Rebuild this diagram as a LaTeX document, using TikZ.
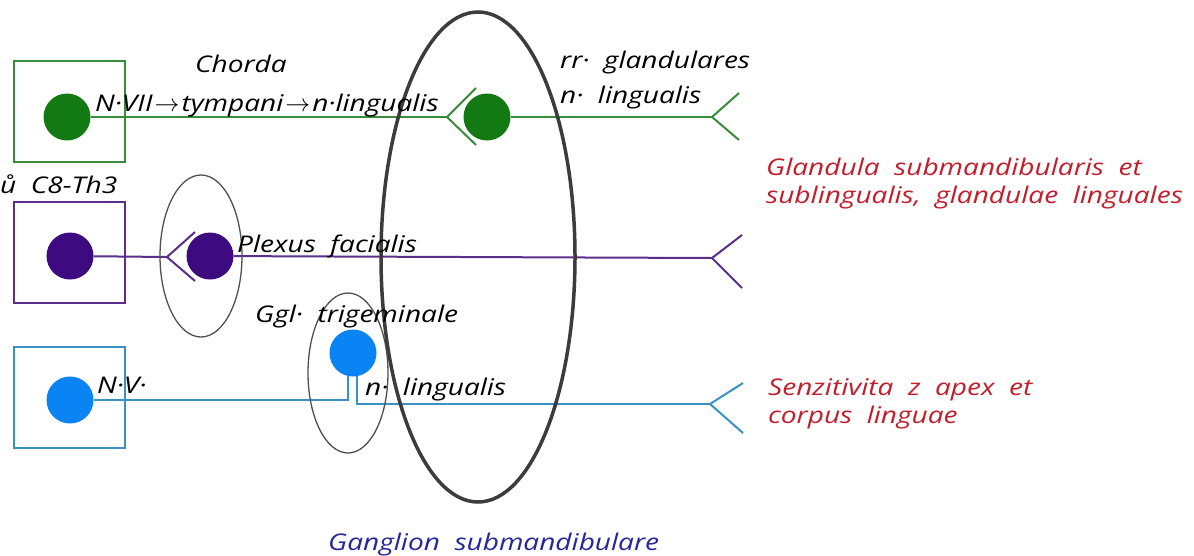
\documentclass[tikz,border=0pt]{standalone}
\usepackage{fontspec}
\setmainfont{Open Sans}[FakeStretch=1.22]
\usetikzlibrary{shapes.geometric}
\definecolor{gr}{HTML}{137A13}
\definecolor{grl}{HTML}{3A8C3A}
\definecolor{pu}{HTML}{3E0A80}
\definecolor{pul}{HTML}{5A2E8A}
\definecolor{bl}{HTML}{0A84F5}
\definecolor{bll}{HTML}{3A92C4}
\definecolor{rd}{HTML}{C21E2C}
\definecolor{nb}{HTML}{25279A}
\definecolor{gy}{HTML}{3C3C3C}
\definecolor{gyl}{HTML}{505050}
\begin{document}
\begin{tikzpicture}[x=1pt,y=-1pt,
  soma/.style={circle, minimum size=47pt, inner sep=0pt, draw=none},
  nucbox/.style={rectangle, minimum width=111pt, minimum height=101pt, line width=2pt, inner sep=0pt},
  fiber/.style={line width=2pt},
  gglring/.style={ellipse, draw=gyl, line width=1.3pt, inner sep=0pt},
  bigring/.style={ellipse, draw=gy, line width=3.5pt, inner sep=0pt},
  lbl/.style={font=\itshape\fontsize{23}{27}\selectfont, inner sep=0pt, anchor=base west},
  redlbl/.style={lbl, text=rd},
]
\useasboundingbox (0,0) rectangle (1194,555);
\fill[white] (0,0) rectangle (1194,555);

% ---------- green row ----------
\node[nucbox, draw=grl] (gbox) at (69,111) {};
\node[soma, fill=gr] (g1) at (67,117) {};
\coordinate (gf1) at (447,117);
\coordinate (gf1a) at (476,88);
\coordinate (gf1b) at (476,145);
\node[soma, fill=gr] (g2) at (487,117) {};
\coordinate (gf2) at (712,117);
\coordinate (gf2a) at (739,93);
\coordinate (gf2b) at (739,140);
\draw[fiber, grl] (g1) -- (gf1);
\draw[fiber, grl] (gf1a) -- (gf1) -- (gf1b);
\draw[fiber, grl] (g2) -- (gf2);
\draw[fiber, grl] (gf2a) -- (gf2) -- (gf2b);

% ---------- purple row ----------
\node[nucbox, draw=pul] (pbox) at (69,252) {};
\node[soma, fill=pu] (p1) at (70,256) {};
\coordinate (pf1) at (167,257);
\coordinate (pf1a) at (195,232);
\coordinate (pf1b) at (195,281);
\node[soma, fill=pu] (p2) at (210,256) {};
\coordinate (pf2) at (712,258);
\coordinate (pf2a) at (742,235);
\coordinate (pf2b) at (742,288);
\draw[fiber, pul] (p1) -- (pf1);
\draw[fiber, pul] (pf1a) -- (pf1) -- (pf1b);
\draw[fiber, pul] (p2) -- (pf2);
\draw[fiber, pul] (pf2a) -- (pf2) -- (pf2b);

% ---------- blue row ----------
\node[nucbox, draw=bll] (bbox) at (69,397) {};
\node[soma, fill=bl] (b1) at (70,400) {};
\coordinate (bsl) at (348,400);
\coordinate (bslt) at (348,370);
\coordinate (bsr) at (357,404);
\coordinate (bsrt) at (357,370);
\coordinate (bf) at (710,404);
\coordinate (bfa) at (743,383);
\coordinate (bfb) at (743,433);
\draw[fiber, bll] (b1) -- (bsl) -- (bslt);
\draw[fiber, bll] (bsrt) -- (bsr) -- (bf);
\draw[fiber, bll] (bfa) -- (bf) -- (bfb);
\node[soma, fill=bl] (b2) at (353,353) {};

% ---------- ganglia ----------
\node[gglring, minimum width=82pt, minimum height=162pt] (gglcerv) at (201,256) {};
\node[gglring, minimum width=80pt, minimum height=160pt] (gglV) at (348,373) {};
\node[bigring, minimum width=194pt, minimum height=490pt] (gglsm) at (478,257) {};

% ---------- labels ----------
\node[lbl] (tchorda) at (195,72) {Chorda};
\node[lbl] (tvii) at (95,111) {N·VII\hspace{2pt}$\rightarrow$\hspace{2pt}tympani\hspace{2pt}$\rightarrow$\hspace{2pt}n·lingualis};
\node[lbl] (trr) at (560,68) {rr·\ \ glandulares};
\node[lbl] (tnl1) at (560,103) {n·\ \ lingualis};
\node[lbl] (tc8) at (0,193) {ů\ \ C8-Th3};
\node[lbl] (tplex) at (237,252) {Plexus\ \ facialis};
\node[lbl] (tggl) at (255,322) {Ggl·\ \ trigeminale};
\node[lbl] (tnv) at (97,393) {N·V·};
\node[lbl] (tnl2) at (365,395) {n·\ \ lingualis};
\node[redlbl] (tgl1) at (766,175) {Glandula\ \ submandibularis\ \ et};
\node[redlbl] (tgl2) at (766,203) {sublingualis,\ \ glandulae\ \ linguales};
\node[redlbl] (tsen1) at (768,395) {Senzitivita\ \ z\ \ apex\ \ et};
\node[redlbl] (tsen2) at (768,423) {corpus\ \ linguae};
\node[lbl, text=nb] (tgsm) at (328,550) {Ganglion\ \ submandibulare};
\end{tikzpicture}
\end{document}
